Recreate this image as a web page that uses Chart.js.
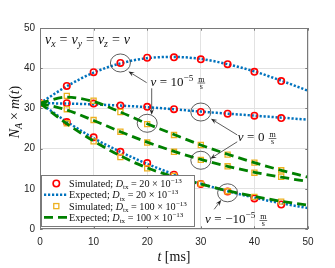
<!DOCTYPE html>
<html><head><meta charset="utf-8">
<script src="https://cdn.jsdelivr.net/npm/chart.js@4/dist/chart.umd.min.js"></script>
<style>html,body{margin:0;padding:0;background:#fff}</style>
</head><body>
<canvas id="c" width="335" height="268"></canvas>
<script>
// ---- data (t in ms) ----
const tSim = [0,5,10,15,20,25,30,35,40,45];
const tExp = [0,5,10,15,20,25,30,35,40,45,50];
const xTicks = [0,10,20,30,40,50];
const yTicks = [0,10,20,30,40,50];

// D_tx = 20e-13
const simD20_vPos = [31.3,35.6,39.0,41.3,42.6,42.7,42.2,41.0,39.1,36.8];
const expD20_vPos = [31.3,35.5,38.9,41.2,42.5,42.8,42.3,41.0,39.2,36.9,34.4];
const simD20_v0   = [31.3,31.3,31.2,30.7,30.4,29.8,29.1,28.7,28.2,27.6];
const expD20_v0   = [31.3,31.2,31.0,30.7,30.3,29.8,29.2,28.7,28.2,27.7,27.2];
const simD20_vNeg = [31.3,26.6,22.8,19.2,16.4,13.5,11.2,9.3,7.6,6.1];
const expD20_vNeg = [31.3,26.7,22.6,19.2,16.2,13.6,11.3,9.4,7.8,6.4,5.2];
// D_tx = 100e-13
const simD100_vPos = [31.3,33.1,31.9,29.1,26.1,23.4,20.9,18.5,16.5,14.6];
const expD100_vPos = [31.3,32.8,31.7,29.1,26.2,23.5,20.9,18.6,16.5,14.6,12.9];
const simD100_v0   = [31.3,29.8,27.1,24.2,21.5,19.2,17.2,15.6,14.0,13.0];
const expD100_v0   = [31.3,29.6,27.0,24.2,21.6,19.3,17.3,15.6,14.1,12.9,11.8];
const simD100_vNeg = [31.3,26.3,21.8,17.9,15.1,13.2,11.3,9.4,8.0,6.8];
const expD100_vNeg = [31.3,26.2,21.9,18.2,15.2,13.0,11.2,9.5,8.1,6.9,5.9];

const legendLabels = [
  [{t:'Simulated; '},{t:'D',i:true},{t:'tx',sub:true},{t:'=',pre:2.5,sp:2.5},{t:'20 \u00d7 10'},{t:'\u221213',sup:true}],
  [{t:'Expected; '},{t:'D',i:true},{t:'tx',sub:true},{t:'=',pre:2.5,sp:2.5},{t:'20 \u00d7 10'},{t:'\u221213',sup:true}],
  [{t:'Simulated; '},{t:'D',i:true},{t:'tx',sub:true},{t:'=',pre:2.5,sp:2.5},{t:'100 \u00d7 10'},{t:'\u221213',sup:true}],
  [{t:'Expected; '},{t:'D',i:true},{t:'tx',sub:true},{t:'=',pre:2.5,sp:2.5},{t:'100 \u00d7 10'},{t:'\u221213',sup:true}]
];

// ---- styles ----
const RED='#ff0000', BLUE='#0072BD', YEL='#EDB120', GRN='#008000', INK='#262626';
const SERIF='"Liberation Serif","Times New Roman",serif';
const SANS='"Liberation Sans",Arial,Helvetica,sans-serif';

function pts(xs, ys){ return xs.map((x,i)=>({x:x, y:ys[i]})); }
function expLine(ys, color, dash, w){
  return {data:pts(tExp, ys), borderColor:color, borderWidth:w, borderDash:dash, borderCapStyle:'butt',
    pointRadius:0, fill:false, cubicInterpolationMode:'monotone', showLine:true};
}
function simPts(ys, color, style, r, bw){
  return {data:pts(tSim, ys), showLine:false, pointStyle:style, pointRadius:r, pointBorderWidth:bw,
    pointBorderColor:color, pointBackgroundColor:'rgba(0,0,0,0)', borderColor:color, backgroundColor:'rgba(0,0,0,0)'};
}
const gDash=[9,5], bDash=[2.2,1.8];
const datasets = [
  expLine(expD100_vPos, GRN, gDash, 2.8), expLine(expD100_v0, GRN, gDash, 2.8), expLine(expD100_vNeg, GRN, gDash, 2.8),
  simPts(simD100_vPos, YEL, 'rect', 3.6, 1.3), simPts(simD100_v0, YEL, 'rect', 3.6, 1.3), simPts(simD100_vNeg, YEL, 'rect', 3.6, 1.3),
  simPts(simD20_vPos, RED, 'circle', 3.2, 1.6), simPts(simD20_v0, RED, 'circle', 3.2, 1.6), simPts(simD20_vNeg, RED, 'circle', 3.2, 1.6),
  expLine(expD20_vPos, BLUE, bDash, 2.5), expLine(expD20_v0, BLUE, bDash, 2.5), expLine(expD20_vNeg, BLUE, bDash, 2.5)
];

// ---- annotations (data coordinates) ----
const ellipses = [[15,41.3],[20,26.3],[30,29.1],[30,17.1],[35,9.0]];
const arrows = [[[19.9,36.4],[16.5,39.2]],[[20.84,35.0],[20.84,28.4]],[[36.8,23.4],[31.9,27.4]],[[36.8,21.7],[31.8,17.5]],[[32.5,4.9],[33.8,7.2]]];
const EQ = {t:'=',pre:3.5,sp:3.5};
const EQW = {t:'=',pre:4,sp:4};
const texts = [
  {at:[0.93,46.0], segs:[{t:'v',i:true},{t:'x',i:true,sub:true},EQW,{t:'v',i:true},{t:'y',i:true,sub:true},EQW,{t:'v',i:true},{t:'z',i:true,sub:true},EQW,{t:'v',i:true}], size:14},
  {at:[20.6,35.6], segs:[{t:'v',i:true},EQ,{t:'10'},{t:'\u22125',sup:true,sp:4},{frac:['m','s']}], size:13},
  {at:[36.9,21.8], segs:[{t:'v',i:true},EQ,{t:'0',sp:4},{frac:['m','s']}], size:13},
  {at:[30.8,1.4], segs:[{t:'v',i:true},EQ,{t:'\u221210'},{t:'\u22125',sup:true,sp:4},{frac:['m','s']}], size:13}
];

function fontStr(sz,it){ return (it?'italic ':'')+sz+'px '+SERIF; }
function layoutRich(ctx, segs, size){
  let w=0; const items=[];
  for(const s of segs){
    if(s.frac){ const fs=size*0.62; ctx.font=fontStr(fs,false);
      const fw=Math.max(ctx.measureText(s.frac[0]).width, ctx.measureText(s.frac[1]).width)+2;
      items.push({s:s,x:w,w:fw,fs:fs}); w+=fw+1; continue; }
    w+=(s.pre||0);
    const fs=(s.sub||s.sup)?size*0.7:size; ctx.font=fontStr(fs,s.i);
    const ww=ctx.measureText(s.t).width; items.push({s:s,x:w,w:ww,fs:fs}); w+=ww+(s.sp||0);
  }
  return {w:w,items:items};
}
function drawRich(ctx, segs, x, y, size, color, align){
  const L=layoutRich(ctx,segs,size);
  let x0=x; if(align==='center') x0=x-L.w/2;
  ctx.fillStyle=color; ctx.strokeStyle=color; ctx.textBaseline='alphabetic'; ctx.textAlign='left';
  for(const it of L.items){ const s=it.s;
    if(s.frac){ const cx=x0+it.x+it.w/2, my=y-size*0.22; ctx.font=fontStr(it.fs,false); ctx.textAlign='center';
      ctx.fillText(s.frac[0],cx,my-1.2); ctx.fillText(s.frac[1],cx,my+1+it.fs*0.6);
      ctx.lineWidth=0.6; ctx.beginPath(); ctx.moveTo(x0+it.x+0.3,my); ctx.lineTo(x0+it.x+it.w-0.3,my); ctx.stroke();
      ctx.textAlign='left'; continue; }
    ctx.font=fontStr(it.fs,s.i); let yy=y; if(s.sub) yy+=size*0.22; if(s.sup) yy-=size*0.38;
    ctx.fillText(s.t,x0+it.x,yy);
  }
}

const overlay = {
  id:'overlay',
  afterDraw(chart){
    const ctx=chart.ctx, a=chart.chartArea, xs=chart.scales.x, ys=chart.scales.y;
    ctx.save();
    ctx.strokeStyle='#7a7a7a'; ctx.lineWidth=1;
    ctx.strokeRect(a.left+0.5,a.top+0.5,a.right-a.left-1,a.bottom-a.top-1);
    ctx.beginPath();
    xTicks.forEach(v=>{const p=Math.round(xs.getPixelForValue(v))+0.5; ctx.moveTo(p,a.bottom); ctx.lineTo(p,a.bottom-2.7); ctx.moveTo(p,a.top); ctx.lineTo(p,a.top+2.7);});
    yTicks.forEach(v=>{const p=Math.round(ys.getPixelForValue(v))+0.5; ctx.moveTo(a.left,p); ctx.lineTo(a.left+2.7,p); ctx.moveTo(a.right,p); ctx.lineTo(a.right-2.7,p);});
    ctx.stroke();
    ctx.strokeStyle='#333'; ctx.lineWidth=0.8;
    ellipses.forEach(e=>{ctx.beginPath(); ctx.ellipse(xs.getPixelForValue(e[0]),ys.getPixelForValue(e[1]),10,9,0,0,Math.PI*2); ctx.stroke();});
    arrows.forEach(ar=>{
      const x1=xs.getPixelForValue(ar[0][0]), y1=ys.getPixelForValue(ar[0][1]);
      const x2=xs.getPixelForValue(ar[1][0]), y2=ys.getPixelForValue(ar[1][1]);
      const ang=Math.atan2(y2-y1,x2-x1), hl=6, hw=2.4;
      ctx.strokeStyle='#333'; ctx.fillStyle='#222'; ctx.lineWidth=0.8;
      ctx.beginPath(); ctx.moveTo(x1,y1); ctx.lineTo(x2-Math.cos(ang)*hl*0.6,y2-Math.sin(ang)*hl*0.6); ctx.stroke();
      ctx.beginPath(); ctx.moveTo(x2,y2);
      ctx.lineTo(x2-Math.cos(ang)*hl-Math.sin(ang)*hw, y2-Math.sin(ang)*hl+Math.cos(ang)*hw);
      ctx.lineTo(x2-Math.cos(ang)*hl*0.6, y2-Math.sin(ang)*hl*0.6);
      ctx.lineTo(x2-Math.cos(ang)*hl+Math.sin(ang)*hw, y2-Math.sin(ang)*hl-Math.cos(ang)*hw);
      ctx.closePath(); ctx.fill();
    });
    texts.forEach(tx=>drawRich(ctx,tx.segs,xs.getPixelForValue(tx.at[0]),ys.getPixelForValue(tx.at[1]),tx.size,'#111','left'));
    const lx=41, ly=175, lw=154, lh=52;
    ctx.fillStyle='#fff'; ctx.fillRect(lx,ly,lw,lh);
    ctx.strokeStyle='#7a7a7a'; ctx.lineWidth=1; ctx.strokeRect(lx+0.5,ly+0.5,lw-1,lh-1);
    const rowY=[183.5,194.8,206.1,217.4];
    const kinds=[datasets[6],datasets[9],datasets[3],datasets[0]];
    kinds.forEach((d,k)=>{
      const y=rowY[k];
      if(d.showLine){
        ctx.save(); ctx.strokeStyle=d.borderColor; ctx.lineWidth=d.borderWidth; ctx.setLineDash(d.borderDash); ctx.lineCap='butt';
        ctx.beginPath(); ctx.moveTo(44,y); ctx.lineTo(68,y); ctx.stroke(); ctx.restore();
      } else {
        ctx.save(); ctx.strokeStyle=d.pointBorderColor; ctx.lineWidth=d.pointBorderWidth;
        if(d.pointStyle==='circle'){ctx.beginPath(); ctx.arc(56.3,y,d.pointRadius,0,Math.PI*2); ctx.stroke();}
        else {const s=d.pointRadius*Math.SQRT1_2; ctx.strokeRect(56.3-s,y-s,2*s,2*s);}
        ctx.restore();
      }
      drawRich(ctx,legendLabels[k],69,y+3.5,10.2,'#111','left');
    });
    drawRich(ctx,[{t:'t',i:true},{t:' [ms]'}],(a.left+a.right)/2,261,14,'#111','center');
    ctx.save(); ctx.translate(18.5,112); ctx.rotate(-Math.PI/2);
    drawRich(ctx,[{t:'N',i:true},{t:'A',i:true,sub:true},{t:'\u00d7',pre:3,sp:3},{t:'m',i:true},{t:'('},{t:'t',i:true},{t:')'}],0,0,14,'#111','center');
    ctx.restore();
    ctx.restore();
  }
};

new Chart(document.getElementById('c'),{
  type:'scatter',
  data:{datasets:datasets},
  options:{
    responsive:false, animation:false, devicePixelRatio:1,
    layout:{padding:{left:0,right:27,top:28,bottom:0}},
    plugins:{legend:{display:false},tooltip:{enabled:false}},
    scales:{
      x:{type:'linear',min:0,max:50,
        ticks:{stepSize:10,padding:7,color:INK,font:{family:SANS,size:10}},
        grid:{color:'#e2e2e2',drawTicks:false,lineWidth:1}, border:{display:false},
        afterFit(s){s.height=39;}},
      y:{type:'linear',min:0,max:50,
        ticks:{stepSize:10,padding:5,color:INK,font:{family:SANS,size:10}},
        grid:{color:'#e2e2e2',drawTicks:false,lineWidth:1}, border:{display:false},
        afterFit(s){s.width=40;}}
    }
  },
  plugins:[overlay]
});
</script>
</body></html>
